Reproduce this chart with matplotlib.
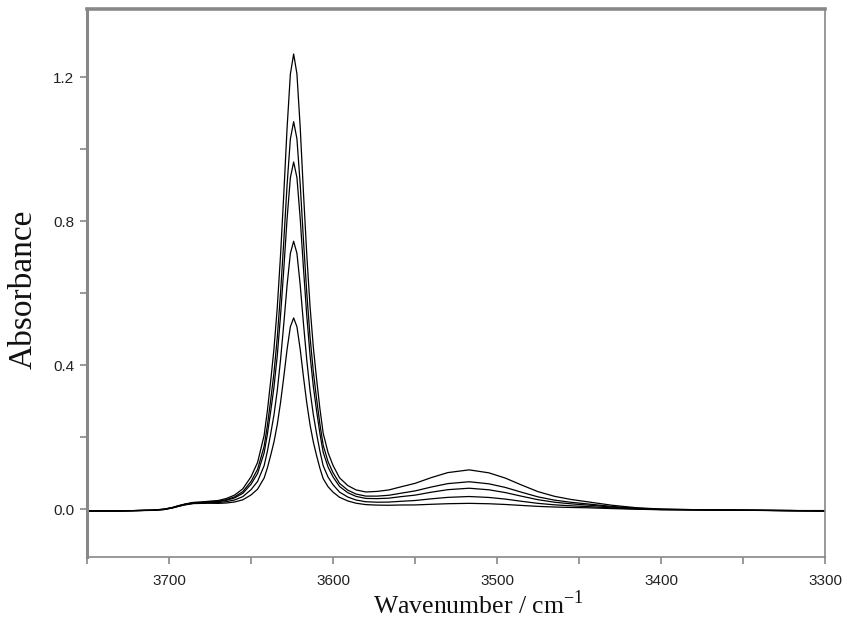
import matplotlib
matplotlib.use("Agg")
import matplotlib.pyplot as plt

plt.rcParams["mathtext.fontset"] = "custom"
plt.rcParams["mathtext.rm"] = "Liberation Serif"

# Wavenumber grid (cm^-1), shared by all spectra
wavenumber = [3750, 3730, 3710, 3703, 3698, 3694, 3690, 3685, 3680, 3675, 3670, 3665,
              3660, 3655, 3650, 3646, 3642, 3640, 3638, 3636, 3634, 3632, 3630, 3628,
              3626, 3624, 3622, 3620, 3618, 3616, 3614, 3612, 3610, 3608, 3606, 3603,
              3600, 3596, 3591, 3586, 3580, 3573, 3566, 3559, 3550, 3540, 3530, 3517,
              3505, 3495, 3485, 3475, 3465, 3455, 3445, 3430, 3415, 3400, 3380, 3350,
              3320, 3300]

# Absorbance spectra, highest to lowest concentration
absorb_1 = [-0.004, -0.004, -0.002, 0.001, 0.0055, 0.011, 0.0154, 0.0197, 0.021, 0.0231, 0.0249, 0.0305,
            0.0399, 0.0573, 0.0907, 0.1305, 0.2056, 0.2745, 0.3568, 0.4456, 0.5597, 0.7056, 0.8767, 1.0594,
            1.209, 1.265, 1.2102, 1.0616, 0.8787, 0.7086, 0.5639, 0.4509, 0.3622, 0.2805, 0.212, 0.1578,
            0.1225, 0.0878, 0.0665, 0.0544, 0.0486, 0.0502, 0.0542, 0.0624, 0.0725, 0.0886, 0.1024, 0.110,
            0.1018, 0.0873, 0.0679, 0.0495, 0.0366, 0.0279, 0.0214, 0.0118, 0.0049, 0.0012, -0.0005, -0.002,
            -0.003, -0.004]
absorb_2 = [-0.004, -0.004, -0.002, 0.001, 0.005, 0.010, 0.0148, 0.0188, 0.0199, 0.0216, 0.0228, 0.0273,
            0.035, 0.0495, 0.0777, 0.1114, 0.1752, 0.2336, 0.3037, 0.3792, 0.4764, 0.6004, 0.7461, 0.9015,
            1.0288, 1.077, 1.0297, 0.903, 0.7472, 0.6022, 0.479, 0.3826, 0.3068, 0.2372, 0.1787, 0.1325,
            0.1023, 0.0725, 0.0537, 0.0429, 0.0371, 0.0371, 0.0394, 0.0448, 0.0515, 0.0624, 0.0718, 0.077,
            0.0713, 0.0613, 0.0478, 0.035, 0.026, 0.020, 0.0155, 0.0085, 0.0034, 0.0005, -0.0005, -0.002,
            -0.003, -0.003]
absorb_3 = [-0.004, -0.004, -0.002, 0.000, 0.005, 0.010, 0.0144, 0.0183, 0.0193, 0.0207, 0.0216, 0.0254,
            0.0321, 0.0448, 0.070, 0.100, 0.1571, 0.2093, 0.272, 0.3398, 0.4267, 0.5379, 0.6684, 0.8075,
            0.9215, 0.965, 0.9221, 0.8086, 0.669, 0.5391, 0.4285, 0.3421, 0.274, 0.2116, 0.1591, 0.1176,
            0.0905, 0.0638, 0.0466, 0.0364, 0.0307, 0.0301, 0.0314, 0.0354, 0.0398, 0.048, 0.055, 0.059,
            0.0547, 0.047, 0.0368, 0.0271, 0.0202, 0.0157, 0.0123, 0.0067, 0.0026, 0.0001, -0.001, -0.002,
            -0.003, -0.004]
absorb_4 = [-0.004, -0.004, -0.002, 0.000, 0.0045, 0.009, 0.0136, 0.0174, 0.0181, 0.019, 0.0192, 0.0217,
            0.0264, 0.0356, 0.0549, 0.0778, 0.1216, 0.1617, 0.2101, 0.2624, 0.3295, 0.4153, 0.5159, 0.6231,
            0.7111, 0.745, 0.7115, 0.6238, 0.5159, 0.4156, 0.3301, 0.2634, 0.2105, 0.1623, 0.1216, 0.0897,
            0.0688, 0.0482, 0.0346, 0.0263, 0.0214, 0.0202, 0.0205, 0.0226, 0.0249, 0.0296, 0.0336, 0.036,
            0.0334, 0.0289, 0.0227, 0.017, 0.0129, 0.0102, 0.0081, 0.0044, 0.0015, -0.0003, -0.001, -0.002,
            -0.004, -0.004]
absorb_5 = [-0.004, -0.004, -0.0025, 0.000, 0.004, 0.009, 0.0129, 0.0164, 0.0169, 0.0173, 0.0169, 0.018,
            0.0208, 0.0268, 0.0403, 0.0564, 0.0873, 0.1156, 0.1502, 0.1875, 0.2354, 0.2967, 0.3685, 0.4447,
            0.5075, 0.532, 0.5077, 0.445, 0.368, 0.2963, 0.2352, 0.1874, 0.1494, 0.1148, 0.0857, 0.0631,
            0.0483, 0.0338, 0.0237, 0.0174, 0.0135, 0.0121, 0.0117, 0.0124, 0.0126, 0.0144, 0.016, 0.017,
            0.0159, 0.0139, 0.0112, 0.0086, 0.0068, 0.0056, 0.0047, 0.0025, 0.0007, -0.0007, -0.001, -0.002,
            -0.003, -0.005]

spectra = [absorb_1, absorb_2, absorb_3, absorb_4, absorb_5]

x_major = [3700, 3600, 3500, 3400, 3300]
x_minor = [3750, 3650, 3550, 3450, 3350]
y_major = [0.0, 0.4, 0.8, 1.2]
y_minor = [0.2, 0.6, 1.0]
y_labels = ["0.0", "0.4", "0.8", "1.2"]

frame_gray = "#888888"

fig = plt.figure(figsize=(8.45, 6.44), dpi=100)
ax = fig.add_axes([87 / 845, (644 - 557) / 644, (825 - 87) / 845, (557 - 9) / 644])

for spec in spectra:
    ax.plot(wavenumber, spec, color="black", lw=0.9)

ax.set_xlim(3750, 3300)
ax.set_ylim(-0.132, 1.39)

ax.set_xticks(x_major)
ax.set_xticks(x_minor, minor=True)
ax.set_xticklabels([str(v) for v in x_major])
ax.set_yticks(y_major)
ax.set_yticks(y_minor, minor=True)
ax.set_yticklabels(y_labels)

ax.tick_params(which="both", direction="out", length=5, width=1.2, color=frame_gray)
ax.tick_params(axis="x", which="major", pad=7)
ax.tick_params(axis="y", which="major", pad=4)
for lab in ax.get_xticklabels() + ax.get_yticklabels():
    lab.set_fontfamily("Liberation Sans")
    lab.set_fontsize(11)
    lab.set_color("#222222")

ax.spines["left"].set_linewidth(2.2)
ax.spines["top"].set_linewidth(2.6)
ax.spines["right"].set_linewidth(1.2)
ax.spines["bottom"].set_linewidth(1.2)
for sp in ax.spines.values():
    sp.set_color(frame_gray)

fig.text(478 / 845, (644 - 614) / 644, r"Wavenumber / cm$^{\mathregular{-1}}$",
         family="Liberation Serif", fontsize=18.5, ha="center", va="baseline", color="#111111")
fig.text(23 / 845, (644 - 289) / 644, "Absorbance", family="Liberation Serif", fontsize=24,
         rotation=90, ha="center", va="center", color="#111111")

fig.savefig("out.png", dpi=100)
